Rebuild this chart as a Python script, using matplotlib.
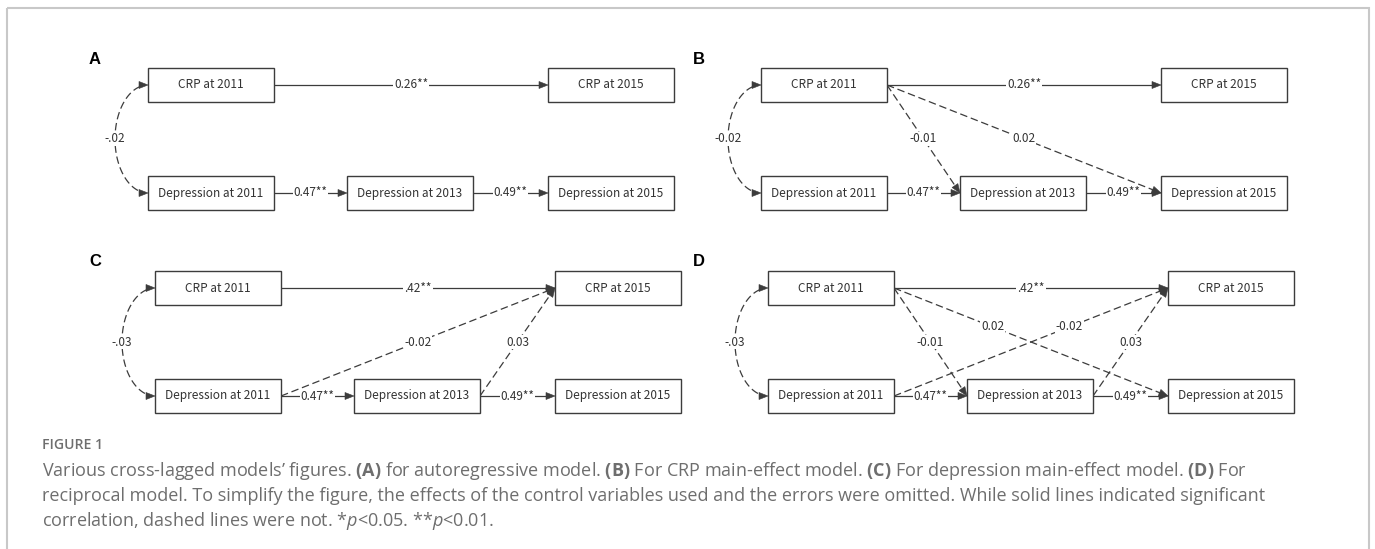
"""
cross-lagged path diagrams (CRP / depression), four models
"""

import numpy as np
import matplotlib
matplotlib.use("Agg")
import matplotlib.pyplot as plt
from matplotlib.patches import Rectangle, Polygon

# ---- data -------------------------------------------------------------
node_names = ["CRP at 2011", "CRP at 2015",
              "Depression at 2011", "Depression at 2013", "Depression at 2015"]
panel_ids = ["A", "B", "C", "D"]
corr_labels = ["-.02", "-0.02", "-.03", "-.03"]      # CRP11 <-> Dep11
crp_11_15 = ["0.26**", "0.26**", ".42**", ".42**"]
dep_11_13 = ["0.47**", "0.47**", "0.47**", "0.47**"]
dep_13_15 = ["0.49**", "0.49**", "0.49**", "0.49**"]
# cross-lagged paths, None = path not in the model
crp11_dep13 = [None, "-0.01", None, "-0.01"]
crp11_dep15 = [None, "0.02", None, "0.02"]
dep11_crp15 = [None, None, "-0.02", "-0.02"]
dep13_crp15 = [None, None, "0.03", "0.03"]

caption_title = "FIGURE 1"
caption_lines = [
    r"Various cross-lagged models’ figures. $\mathbf{(A)}$ for autoregressive model. "
    r"$\mathbf{(B)}$ For CRP main-effect model. $\mathbf{(C)}$ For depression main-effect model. "
    r"$\mathbf{(D)}$ For",
    "reciprocal model. To simplify the figure, the effects of the control variables used "
    "and the errors were omitted. While solid lines indicated significant",
    r"correlation, dashed lines were not. *$\mathit{p}$<0.05. **$\mathit{p}$<0.01.",
]

# ---- style ------------------------------------------------------------
box_font = "Noto Sans CJK SC"
cap_font = "Open Sans"
line_col = "#3c3c3c"
text_col = "#333333"
cap_col = "#6e6e6e"
lw = 0.9
head_len, head_w = 9, 3.5
box_w, box_h = 126, 34
col_dx = [0, 199, 400]
row_dy = 108
# left edge of first box column, centre of top row
panel_origin = [(148, 85), (761, 85), (155, 288), (768, 288)]
label_pos = [(95, 59), (699, 59), (95, 261), (699, 261)]

plt.rcParams["mathtext.fontset"] = "custom"
plt.rcParams["mathtext.rm"] = cap_font
plt.rcParams["mathtext.bf"] = cap_font + ":bold"
plt.rcParams["mathtext.it"] = cap_font + ":italic"

fig = plt.figure(figsize=(13.75, 5.49), dpi=100)
ax = fig.add_axes([0, 0, 1, 1])
ax.set_xlim(0, 1375)
ax.set_ylim(549, 0)
ax.axis("off")
renderer = fig.canvas.get_renderer()


def text_width(s, **kw):
    t = ax.text(0, 0, s, **kw)
    w = t.get_window_extent(renderer).width
    t.remove()
    return w


box_fs = 10 * 105 / text_width("Depression at 2011", fontsize=10, family=box_font)
cap_fs = 10 * 1206 / text_width(caption_lines[0], fontsize=10, family=cap_font)
title_fs = 10 * 61 / text_width(caption_title, fontsize=10, family=cap_font,
                                fontweight="semibold")


def arrow(p0, p1, label, t=0.5):
    p0, p1 = np.array(p0, float), np.array(p1, float)
    d = (p1 - p0) / np.hypot(*(p1 - p0))
    base = p1 - d * head_len
    dashed = "**" not in label
    ls = (0, (6, 3)) if dashed else "-"
    ax.plot([p0[0], base[0]], [p0[1], base[1]], color=line_col, lw=lw,
            linestyle=ls, solid_capstyle="butt", zorder=1)
    nrm = np.array([-d[1], d[0]])
    ax.add_patch(Polygon([p1, base + nrm * head_w, base - nrm * head_w],
                         closed=True, fc=line_col, ec=line_col, lw=0.4, zorder=2))
    m = p0 + (p1 - p0) * t
    ax.text(m[0], m[1], label, ha="center", va="center", fontsize=box_fs,
            family=box_font, color=text_col, zorder=3,
            bbox=dict(fc="white", ec="none", pad=0.6))


def corr_arc(x0, y_top, y_bot, label):
    yc, b, a = (y_top + y_bot) / 2, (y_bot - y_top) / 2, 33
    phi0 = np.arcsin((head_len - 1) / a)
    phi = np.linspace(phi0, np.pi - phi0, 80)
    ax.plot(x0 - a * np.sin(phi), yc - b * np.cos(phi), color=line_col, lw=lw,
            linestyle=(0, (6, 3)), zorder=1)
    for y in (y_top, y_bot):
        ax.add_patch(Polygon([(x0, y), (x0 - head_len, y - head_w),
                              (x0 - head_len, y + head_w)],
                             closed=True, fc=line_col, ec=line_col, lw=0.4, zorder=2))
    ax.text(x0 - a, yc, label, ha="center", va="center", fontsize=box_fs,
            family=box_font, color=text_col, zorder=3,
            bbox=dict(fc="white", ec="none", pad=0.6))


for i, pid in enumerate(panel_ids):
    x0, y0 = panel_origin[i]
    # node box positions: (left, centre y)
    pos = {
        node_names[0]: (x0 + col_dx[0], y0),
        node_names[1]: (x0 + col_dx[2], y0),
        node_names[2]: (x0 + col_dx[0], y0 + row_dy),
        node_names[3]: (x0 + col_dx[1], y0 + row_dy),
        node_names[4]: (x0 + col_dx[2], y0 + row_dy),
    }
    for name, (bx, by) in pos.items():
        ax.add_patch(Rectangle((bx, by - box_h / 2), box_w, box_h, fc="white",
                               ec=line_col, lw=1.0, zorder=4))
        ax.text(bx + box_w / 2, by, name, ha="center", va="center",
                fontsize=box_fs, family=box_font, color=text_col, zorder=5)

    def right(n):
        return pos[n][0] + box_w, pos[n][1]

    def left(n):
        return pos[n]

    ax.text(*label_pos[i], pid, ha="center", va="center", fontsize=12,
            fontweight="bold", family="Liberation Sans", color="black")
    corr_arc(x0, y0, y0 + row_dy, corr_labels[i])
    arrow(right(node_names[0]), left(node_names[1]), crp_11_15[i])
    arrow(right(node_names[2]), left(node_names[3]), dep_11_13[i])
    arrow(right(node_names[3]), left(node_names[4]), dep_13_15[i])
    both = crp11_dep15[i] is not None and dep11_crp15[i] is not None
    if crp11_dep13[i]:
        arrow(right(node_names[0]), left(node_names[3]), crp11_dep13[i])
    if crp11_dep15[i]:
        arrow(right(node_names[0]), left(node_names[4]), crp11_dep15[i],
              t=0.36 if both else 0.5)
    if dep11_crp15[i]:
        arrow(right(node_names[2]), left(node_names[1]), dep11_crp15[i],
              t=0.64 if both else 0.5)
    if dep13_crp15[i]:
        arrow(right(node_names[3]), left(node_names[1]), dep13_crp15[i])

# outer frame
ax.add_patch(Rectangle((7, 8), 1362, 560, fc="none", ec="#c8c8c8", lw=1.5,
                       clip_on=False))

# caption
ax.text(42, 445, caption_title, ha="left", va="center", fontsize=title_fs,
        fontweight="semibold", family=cap_font, color=cap_col)
for k, line in enumerate(caption_lines):
    ax.text(42, 471 + 25 * k, line, ha="left", va="center", fontsize=cap_fs,
            family=cap_font, color=cap_col)

fig.savefig("out.png", dpi=100)
